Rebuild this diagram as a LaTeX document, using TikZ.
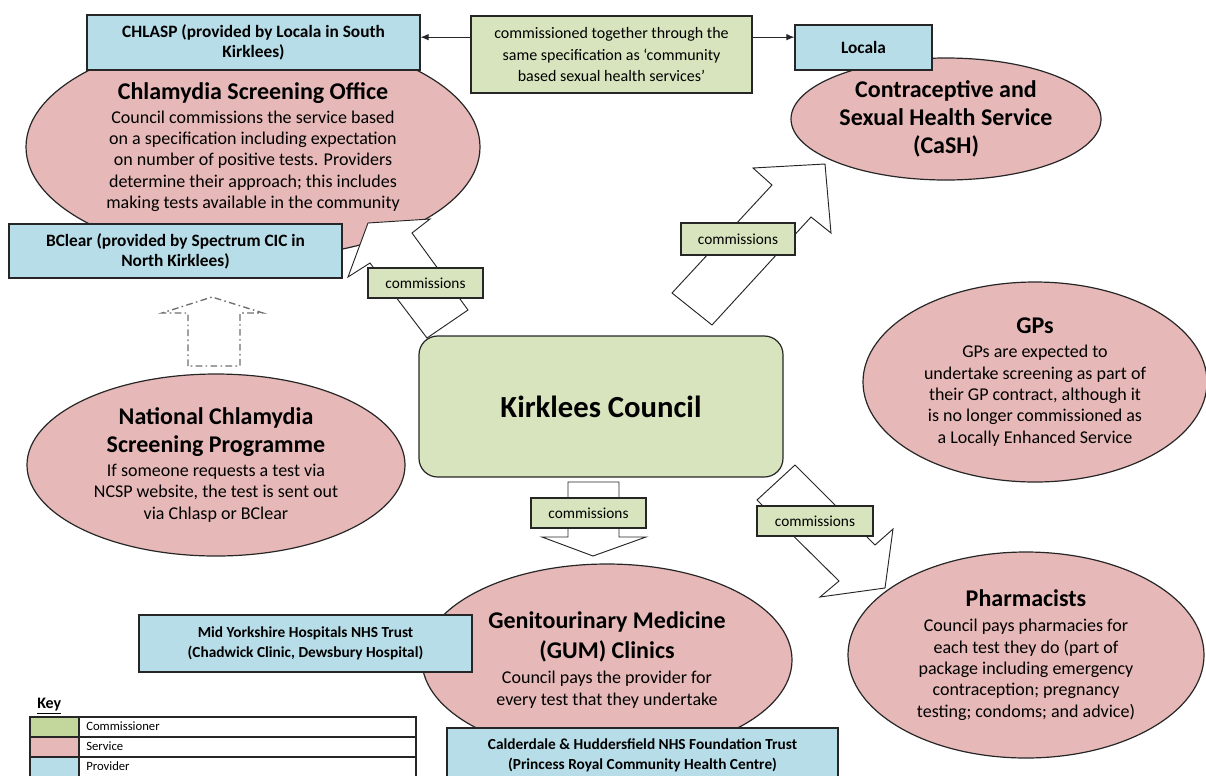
\documentclass[tikz,border=0pt]{standalone}
\usepackage{fontspec}
\setmainfont{Carlito}
\usetikzlibrary{arrows.meta,shapes.geometric}
\definecolor{commgreen}{HTML}{D7E4BD}
\definecolor{keygreen}{HTML}{C3D69B}
\definecolor{servpink}{HTML}{E6B9B8}
\definecolor{provblue}{HTML}{B7DDE8}
\definecolor{lineg}{HTML}{262626}
\definecolor{dashgray}{HTML}{6E6E6E}
\newcommand{\svtitle}{\fontsize{18}{21}\selectfont\bfseries}
\newcommand{\svbody}{\fontsize{13.5}{16}\selectfont}
\tikzset{
  provider/.style={draw=lineg,fill=provblue,line width=.9pt,inner sep=0pt,align=center,
    font=\fontsize{13}{15}\selectfont\bfseries},
  service/.style={ellipse,draw=lineg,fill=servpink,line width=.9pt,inner sep=0pt,align=center,
    font=\svbody},
  commbox/.style={draw=lineg,fill=commgreen,line width=.9pt,inner sep=0pt,align=center,
    font=\fontsize{11.5}{14}\selectfont},
  blockarr/.style={draw=lineg,fill=white,line width=.7pt},
}

\begin{document}
\begin{tikzpicture}[>={Latex[length=6pt,width=5pt]},x=.75pt,y=-.75pt]
  \useasboundingbox (0,0) rectangle (1206,775);
  \node[service,minimum width=340.5pt,minimum height=166.5pt] (cso) at (253,147)
    {\svtitle Chlamydia Screening Office\\[2pt]
     Council commissions the service based\\on a specification including expectation\\
     on number of positive tests. Providers\\determine their approach; this includes\\
     making tests available in the community};
  \node[service,font=\svtitle,inner xsep=-8pt,minimum width=232.5pt,minimum height=91.5pt]
    (cash) at (946,119) {Contraceptive and\\Sexual Health Service\\(CaSH)};
  \node[service,minimum width=258pt,minimum height=150pt] (gps) at (1035,382)
    {\svtitle GPs\\[2pt] GPs are expected to\\undertake screening as part of\\
     their GP contract, although it\\is no longer commissioned as\\a Locally Enhanced Service};
  \node[service,minimum width=283.5pt,minimum height=136.5pt] (ncsp) at (216,465)
    {\svtitle National Chlamydia\\[5pt] \svtitle Screening Programme\\[2pt]
     If someone requests a test via\\NCSP website, the test is sent out\\via Chlasp or BClear};
  \node[service,minimum width=277.5pt,minimum height=144pt] (gum) at (607,660)
    {\svtitle Genitourinary Medicine\\[5pt] \svtitle (GUM) Clinics\\[3pt]
     Council pays the provider for\\every test that they undertake};
  \node[service,minimum width=267pt,minimum height=154.5pt] (pharm) at (1026,655)
    {\svtitle Pharmacists\\[3pt] Council pays pharmacies for\\each test they do (part of\\
     package including emergency\\contraception; pregnancy\\testing; condoms; and advice)};

  \draw[blockarr] (427,338) -- (468,310) -- (412,233) -- (430,219) -- (368,223)
    -- (348,277) -- (370,263) -- cycle;
  \draw[blockarr] (672,293) -- (712,325) -- (811,217) -- (831,233) -- (825,164)
    -- (753,168) -- (772,185) -- cycle;
  \draw[blockarr] (568,482) -- (619,482) -- (619,537) -- (646,537) -- (593,556)
    -- (542,537) -- (568,537) -- cycle;
  \draw[blockarr] (757,500) -- (795,465) -- (875,545) -- (893,529) -- (885,588)
    -- (820,597) -- (839,581) -- cycle;
  \draw[dashgray,line width=1pt,dash pattern=on 5pt off 2.5pt on 1.2pt off 2.5pt]
    (188,366) -- (188,313) -- (162,313) -- (212,297) -- (263,313) -- (240,313)
    -- (240,366) -- cycle;

  \node[draw=lineg,fill=commgreen,line width=.9pt,rounded corners=14pt,minimum width=273pt,
    minimum height=105.75pt,font=\fontsize{23}{27}\selectfont\bfseries] (kirklees)
    at (601,406.5) {Kirklees Council};

  \node[provider,minimum width=249.75pt,minimum height=41.25pt] (chlasp) at (253.5,42.5)
    {CHLASP (provided by Locala in South\\Kirklees)};
  \node[provider,minimum width=249.75pt,minimum height=40.5pt] (bclear) at (175.5,251)
    {BClear (provided by Spectrum CIC in\\North Kirklees)};
  \node[provider,minimum width=102.75pt,minimum height=33.75pt] (locala) at (863.5,47.5)
    {Locala};
  \node[provider,font=\fontsize{11.5}{15}\selectfont\bfseries,minimum width=249.75pt,
    minimum height=42.75pt] (midyork) at (305.5,643.5)
    {Mid Yorkshire Hospitals NHS Trust\\(Chadwick Clinic, Dewsbury Hospital)};
  \node[provider,font=\fontsize{11.5}{15}\selectfont\bfseries,minimum width=293.25pt,
    minimum height=40.5pt] (calder) at (642.5,755)
    {Calderdale \& Huddersfield NHS Foundation Trust\\(Princess Royal Community Health Centre)};

  \node[commbox,font=\fontsize{12}{16}\selectfont,minimum width=210.75pt,minimum height=57.75pt]
    (spec) at (611.5,54.5) {commissioned together through the\\same specification as ‘community\\
    based sexual health services’};
  \coordinate (specl) at ([yshift=13pt]spec.west);
  \coordinate (specr) at ([yshift=13pt]spec.east);
  \draw[->,lineg,line width=.8pt] (specl) -- (specl -| chlasp.east);
  \draw[->,lineg,line width=.8pt] (specr) -- (specr -| locala.west);

  \node[commbox,minimum width=86.25pt,minimum height=22.5pt] (lblcso) at (425.5,283) {commissions};
  \node[commbox,minimum width=85.5pt,minimum height=24pt] (lblcash) at (738,239) {commissions};
  \node[commbox,minimum width=86.25pt,minimum height=22.5pt] (lblgum) at (588.5,513) {commissions};
  \node[commbox,minimum width=87pt,minimum height=22.5pt] (lblpharm) at (815,521) {commissions};

  \node[anchor=south west,inner sep=0pt,font=\fontsize{12}{14}\selectfont\bfseries] (keyhead)
    at (37,714) {\underline{Key}};
  \foreach \c/\t [count=\i] in {keygreen/Commissioner,servpink/Service,provblue/Provider}{
    \fill[\c] (30,{697+20*\i}) rectangle (79,{717+20*\i});
    \draw[lineg,line width=.9pt] (30,{697+20*\i}) rectangle (416,{717+20*\i});
    \draw[lineg,line width=.9pt] (79,{697+20*\i}) -- (79,{717+20*\i});
    \node[anchor=west,inner sep=0pt,font=\fontsize{9.5}{11}\selectfont] (key\i)
      at (86,{706+20*\i}) {\t};
  }
\end{tikzpicture}
\end{document}
